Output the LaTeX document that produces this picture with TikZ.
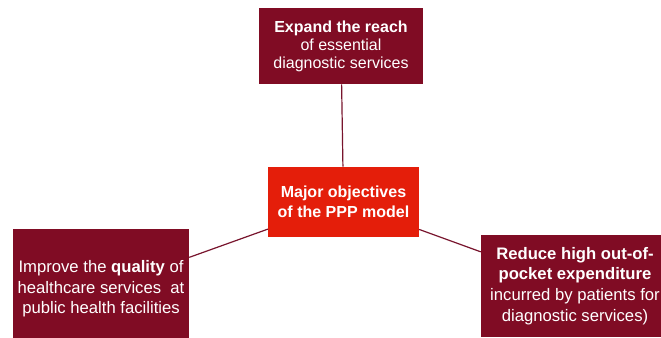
\documentclass[tikz,border=0pt]{standalone}
\usepackage{fontspec}
\setmainfont{Liberation Sans}
\usepackage{tikz}
\usetikzlibrary{positioning}
\definecolor{mymaroon}{RGB}{128,12,36}
\definecolor{myred}{RGB}{228,30,10}
\definecolor{mylink}{RGB}{120,20,45}
\tikzset{
  objbox/.style={rectangle, fill=mymaroon, text=white, align=center,
    inner sep=0pt, font=\fontsize{12.5}{15.5}\selectfont},
  mainbox/.style={rectangle, fill=myred, text=white, align=center,
    inner sep=0pt, font=\fontsize{12}{15}\selectfont\bfseries},
  link/.style={line width=0.9pt, color=mylink}
}
\begin{document}
\begin{tikzpicture}[x=0.75pt, y=-0.75pt]
  \clip (0,0) rectangle (661,338);
  \fill[white] (0,0) rectangle (661,338);

  \node[mainbox, minimum width=113pt, minimum height=52.5pt] (ctr) at (343.5,202)
    {Major objectives\\of the PPP model};
  \node[objbox, minimum width=123pt, minimum height=57pt,
    font=\fontsize{12}{13.5}\selectfont] (reach) at (341,46)
    {\textbf{Expand the reach}\\of essential\\diagnostic services};
  \node[objbox, minimum width=132pt, minimum height=90pt] (qual) at (101,289)
    {Improve the \textbf{quality} of\\healthcare services\ \ at\\public health facilities};
  \node[objbox, minimum width=141pt, minimum height=76.5pt] (cost) at (575,286)
    {\textbf{Reduce high out-of-}\\\textbf{pocket expenditure}\\incurred by patients for\\diagnostic services)};

  \draw[link] (reach) -- (ctr);
  \draw[link] (ctr) -- (qual);
  \draw[link] (ctr) -- (cost);
\end{tikzpicture}
\end{document}
